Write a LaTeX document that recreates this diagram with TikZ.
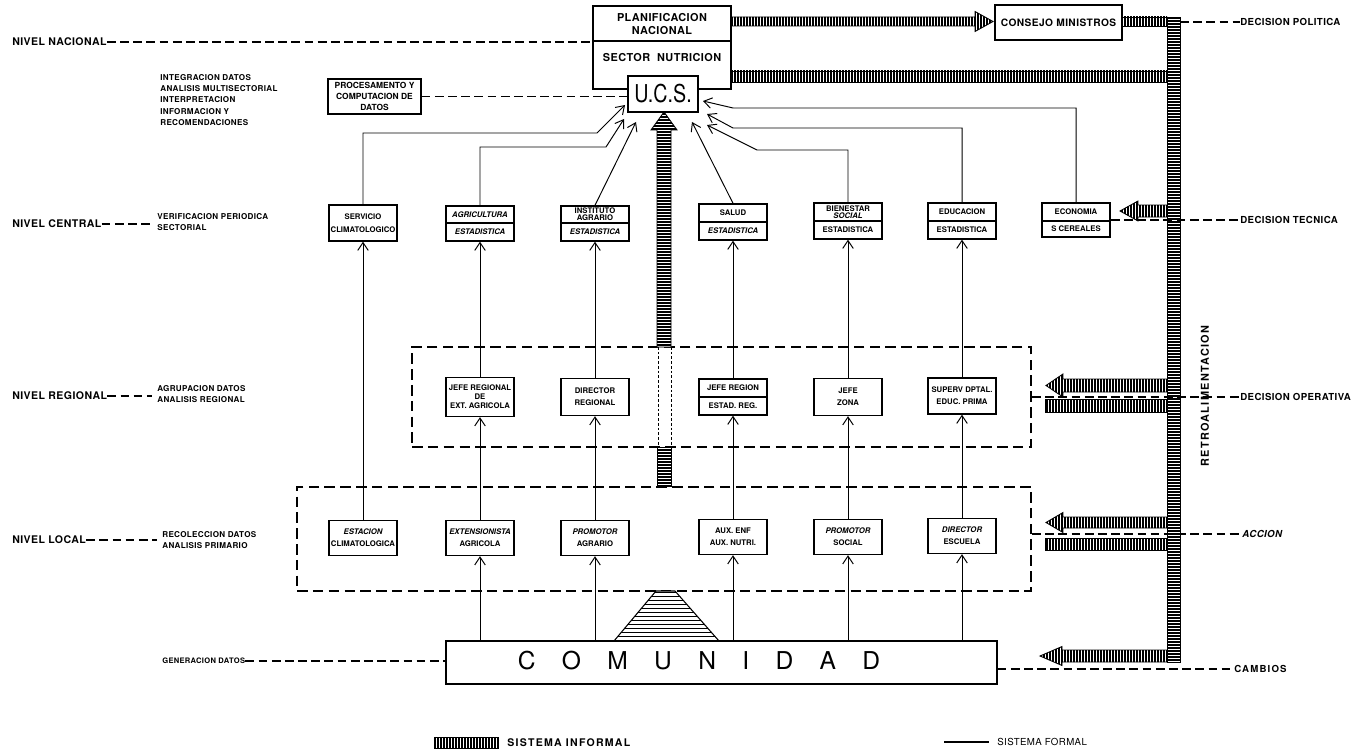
\documentclass[tikz,border=0pt]{standalone}
\usepackage{fontspec}
\setmainfont{TeX Gyre Heros}
\newfontfamily\hvsp[LetterSpace=4]{TeX Gyre Heros}
\newfontfamily\hvwide[LetterSpace=12]{TeX Gyre Heros}
\newfontfamily\hvcond[FakeStretch=0.8]{TeX Gyre Heros}
\usetikzlibrary{arrows.meta}

% two-part box: name, centre x, top y, divider y, bottom y, upper text, lower text
\newcommand{\dualbox}[7]{%
  \node[cell, minimum height={(#5-#3)*0.02cm}] (#1) at (#2,{(#3+#5)/2}) {};
  \draw[line width=0.6pt] ({#2-34},#4) -- ({#2+34},#4);
  \node[btext] (#1-u) at (#2,{(#3+#4)/2}) {#6};
  \node[btext] (#1-l) at (#2,{(#4+#5)/2}) {#7};}

% hatched arrow: tip x, head base x, tail x, centre y, half band, half head
\newcommand{\hatcharrow}[6]{%
  \draw[band] (#2,{#4-#5}) -- (#2,{#4-#6}) -- (#1,#4) -- (#2,{#4+#6})
    -- (#2,{#4+#5}) -- (#3,{#4+#5}) -- (#3,{#4-#5}) -- cycle;}

\begin{document}
\begin{tikzpicture}[x=0.02cm,y=-0.02cm,
  cell/.style={draw, line width=0.8pt, fill=white, minimum width=1.36cm, inner sep=0pt},
  btext/.style={font=\fontsize{4.4}{5.2}\selectfont\bfseries, align=center, inner sep=0pt},
  lvl/.style={font=\hvsp\fontsize{6}{7}\selectfont\bfseries, inner sep=0pt, anchor=west},
  desc/.style={font=\hvsp\fontsize{4.6}{6.5}\selectfont\bfseries, inner sep=0pt, anchor=west, align=left},
  dec/.style={font=\hvsp\fontsize{5.5}{6.5}\selectfont\bfseries, inner sep=0pt, anchor=west},
  lvldash/.style={line width=0.6pt, dash pattern=on 5pt off 2.5pt},
  zone/.style={draw, line width=1.3pt, dash pattern=on 6pt off 3pt, inner sep=0pt},
  flow/.style={line width=0.55pt, -{Straight Barb[length=4.5pt,width=6pt]}},
  % hatched bands of the informal system: vertical stripes
  band/.style={draw, line width=0.5pt, fill=white, path picture={
      \draw[line width=0.95pt] \foreach \i in {0,3,...,1371} {(\i,0) -- (\i,753)};}},
  % same, horizontal stripes
  vband/.style={draw, line width=0.5pt, fill=white, path picture={
      \draw[line width=0.95pt] \foreach \j in {0,3,...,753} {(0,\j) -- (1371,\j)};}},
  trapfill/.style={draw, line width=0.6pt, fill=white, path picture={
      \draw[line width=0.5pt] \foreach \j in {592,596,...,640} {(600,\j) -- (730,\j)};}},
]
\useasboundingbox (0,0) rectangle (1371,753);
\fill[white] (0,0) rectangle (1371,753);

% ---------- dashed zones (regional, local) ----------
\node[zone, minimum width=12.38cm, minimum height=2cm] (regional) at (721.5,397) {};
\node[zone, minimum width=14.68cm, minimum height=2.08cm] (local) at (664,539) {};

% ---------- informal system: feedback bands ----------
\hatcharrow{993}{975}{731}{21.5}{4.5}{10}
\draw[band] (1122,17) rectangle (1167,26);
\draw[band] (731,71) rectangle (1167,82);
\hatcharrow{1120}{1138}{1167}{211}{6}{10}
\hatcharrow{1046}{1063}{1167}{385.5}{6.5}{11.5}
\draw[band] (1045,399) rectangle (1167,412);
\hatcharrow{1046}{1063}{1167}{522.5}{5.5}{10}
\draw[band] (1045,538) rectangle (1167,550);
\hatcharrow{1040}{1062}{1167}{656}{6}{9.5}
\draw[vband] (1167,17) rectangle (1180,662);
\coordinate (band-r) at (1180,22);

% ---------- informal system: community to U.C.S. ----------
\draw[vband] (657,347) -- (657,130) -- (651,130) -- (664,112) -- (677,130) -- (671,130) -- (671,347) -- cycle;
\draw[line width=0.5pt, dash pattern=on 1.5pt off 1.2pt] (658,347) -- (658,447) (671,347) -- (671,447);
\draw[vband] (657,447) rectangle (671,486);
\draw[trapfill] (614,641) -- (656,591) -- (675,591) -- (719,641) -- cycle;

% ---------- national level ----------
\node[draw, line width=0.8pt, minimum width=2.76cm, minimum height=1.66cm, inner sep=0pt] (plan) at (662,47.5) {};
\draw[line width=0.6pt] (593,41) -- (731,41);
\node[font=\hvsp\fontsize{6.2}{6.9}\selectfont\bfseries, align=center, inner sep=0pt] (plan-t) at (662,24) {PLANIFICACION\\NACIONAL};
\node[font=\hvsp\fontsize{6.2}{6.9}\selectfont\bfseries, inner sep=0pt] (plan-s) at (662,58) {SECTOR\ \ NUTRICION};
\node[cell, minimum width=1.4cm, minimum height=0.72cm, font=\hvcond\fontsize{14}{14}\selectfont] (ucs) at (663,94) {U.C.S.};
\node[cell, minimum width=2.54cm, minimum height=0.7cm, font=\hvsp\fontsize{5.8}{7}\selectfont\bfseries] (consejo) at (1058.5,22.5) {CONSEJO MINISTROS};
\node[cell, minimum width=1.86cm, minimum height=0.7cm, align=center, font=\fontsize{4.8}{6.2}\selectfont\bfseries] (proc) at (374.5,96.5) {PROCESAMENTO Y\\COMPUTACION DE\\DATOS};

% ---------- central level ----------
\node[cell, btext, minimum height=0.72cm] (servicio) at (363,223) {SERVICIO\\[2pt]CLIMATOLOGICO};
\dualbox{agri}{480}{206}{223}{241}{\itshape AGRICULTURA}{\itshape ESTADISTICA}
\dualbox{inst}{595}{206}{223}{241}{INSTITUTO\\[-1.4pt]AGRARIO}{\itshape ESTADISTICA}
\dualbox{salud}{733}{204}{222}{240}{SALUD}{\itshape ESTADISTICA}
\dualbox{bien}{848}{203}{221}{239}{BIENESTAR\\[-1.4pt]{\itshape SOCIAL}}{ESTADISTICA}
\dualbox{educ}{962}{203}{221}{239}{EDUCACION}{ESTADISTICA}
\dualbox{econ}{1076}{203}{221}{237}{ECONOMIA}{S CEREALES}

% ---------- regional level ----------
\node[cell, btext, minimum height=0.78cm] (jreg) at (480,397) {JEFE REGIONAL\\DE\\EXT. AGRICOLA};
\node[cell, btext, minimum height=0.74cm] (dreg) at (595,397) {DIRECTOR\\[1.5pt]REGIONAL};
\dualbox{jregion}{733}{379}{397}{415}{JEFE REGION}{ESTAD. REG.}
\node[cell, btext, minimum height=0.74cm] (jzona) at (848,397) {JEFE\\[1.5pt]ZONA};
\node[cell, btext, minimum height=0.72cm] (superv) at (962,396) {SUPERV DPTAL.\\[1.5pt]EDUC. PRIMA};

% ---------- local level ----------
\node[cell, btext, minimum height=0.7cm] (estacion) at (363,538) {{\itshape ESTACION}\\[1.5pt]CLIMATOLOGICA};
\node[cell, btext, minimum height=0.7cm] (extens) at (480,538) {{\itshape EXTENSIONISTA}\\[1.5pt]AGRICOLA};
\node[cell, btext, minimum height=0.7cm] (promagr) at (595,538) {{\itshape PROMOTOR}\\[1.5pt]AGRARIO};
\node[cell, btext, minimum height=0.7cm] (auxenf) at (733,537) {AUX. ENF\\[1.5pt]AUX. NUTRI.};
\node[cell, btext, minimum height=0.7cm] (promsoc) at (848,537) {{\itshape PROMOTOR}\\[1.5pt]SOCIAL};
\node[cell, btext, minimum height=0.7cm] (direscuela) at (962,536) {{\itshape DIRECTOR}\\[1.5pt]ESCUELA};

% ---------- community ----------
\node[cell, minimum width=11.02cm, minimum height=0.86cm] (comunidad) at (721.5,662.5) {};
\node[font=\fontsize{14}{14}\selectfont, inner sep=0pt] (comunidad-t) at (699,661)
  {\spaceskip=15pt\relax C O M U N I D A D};

% ---------- formal system: data flows ----------
\foreach \lo/\hi in {estacion/servicio, jreg/agri, dreg/inst, jregion/salud, jzona/bien, superv/educ,
                    extens/jreg, promagr/dreg, auxenf/jregion, promsoc/jzona, direscuela/superv}
  \draw[flow] (\lo.north) -- (\hi.south);
\foreach \lo in {extens, promagr, auxenf, promsoc, direscuela}
  \draw[flow] (\lo.south |- comunidad.north) -- (\lo.south);

\coordinate (sv-b) at (597,133); \coordinate (sv-t) at (625,105);
\coordinate (ag-b) at (606,147); \coordinate (ag-t) at (624,119);
\coordinate (in-t) at (636,122);
\coordinate (sa-t) at (692,122);
\coordinate (bi-b) at (757,150); \coordinate (bi-t) at (707,125);
\coordinate (ed-b) at (733,128); \coordinate (ed-t) at (707,114);
\coordinate (ec-b) at (733,108); \coordinate (ec-t) at (703,101);
\draw[flow] (servicio.north) |- (sv-b) -- (sv-t);
\draw[flow] (agri.north) |- (ag-b) -- (ag-t);
\draw[flow] (inst.north) -- (in-t);
\draw[flow] (salud.north) -- (sa-t);
\draw[flow] (bien.north) |- (bi-b) -- (bi-t);
\draw[flow] (educ.north) |- (ed-b) -- (ed-t);
\draw[flow] (econ.north) |- (ec-b) -- (ec-t);

% ---------- level labels (left) ----------
\node[lvl] (nacional) at (12,42) {NIVEL NACIONAL};
\draw[lvldash] (nacional.east) -- (nacional.east -| plan.west);
\node[desc] (nac-d) at (160,100) {INTEGRACION DATOS\\ANALISIS MULTISECTORIAL\\INTERPRETACION\\INFORMACION Y\\RECOMENDACIONES};
\draw[lvldash] (proc.east) -- (proc.east -| ucs.west);

\node[lvl] (central) at (12,224) {NIVEL CENTRAL};
\node[desc] (central-d) at (157,222) {VERIFICACION PERIODICA\\SECTORIAL};
\draw[lvldash] (central.east) -- ([xshift=-3pt]central.east -| central-d.west);

\node[lvl] (regl) at (12,396) {NIVEL REGIONAL};
\node[desc] (regl-d) at (157,394) {AGRUPACION DATOS\\ANALISIS REGIONAL};
\draw[lvldash] (regl.east) -- ([xshift=-3pt]regl.east -| regl-d.west);

\node[lvl] (locl) at (12,540) {NIVEL LOCAL};
\node[desc] (locl-d) at (162,540) {RECOLECCION DATOS\\ANALISIS PRIMARIO};
\draw[lvldash] (locl.east) -- ([xshift=-3pt]locl.east -| locl-d.west);

\node[desc, font=\hvsp\fontsize{4.3}{5}\selectfont\bfseries] (gen) at (162,661) {GENERACION DATOS};
\draw[lvldash] (gen.east) -- (gen.east -| comunidad.west);

% ---------- decision labels (right) ----------
\node[dec] (politica) at (1240,22) {DECISION POLITICA};
\draw[lvldash] (band-r) -- (politica.west);
\node[dec] (tecnica) at (1240,220) {DECISION TECNICA};
\draw[lvldash] (econ.east) -- (econ.east -| tecnica.west);
\node[dec] (operativa) at (1240,397) {DECISION OPERATIVA};
\draw[lvldash] (regional.east) -- (regional.east -| operativa.west);
\node[dec, font=\hvsp\fontsize{5.5}{6.5}\selectfont\bfseries\itshape] (accion) at (1242,534) {ACCION};
\draw[lvldash] (local.east |- accion.west) -- (accion.west);
\node[dec, font=\hvwide\fontsize{5.5}{6.5}\selectfont\bfseries] (cambios) at (1234,669) {CAMBIOS};
\draw[lvldash] (comunidad.east |- cambios.west) -- (cambios.west);

\node[font=\hvwide\fontsize{6.2}{7}\selectfont\bfseries, rotate=90, inner sep=0pt] (retro) at (1205,396) {RETROALIMENTACION};

% ---------- legend ----------
\draw[band] (434,737) rectangle (498,748);
\coordinate (inf-swatch) at (498,742.5);
\node[font=\hvwide\fontsize{6}{7}\selectfont\bfseries, inner sep=0pt, anchor=west] (inf-text) at (507,743) {SISTEMA INFORMAL};
\coordinate (formal-line) at (944,742);
\node[font=\hvsp\fontsize{5.5}{6.5}\selectfont, inner sep=0pt, anchor=west] (formal-text) at (997,742) {SISTEMA FORMAL};
\draw[line width=0.8pt] (formal-line) -- ([xshift=-0.16cm]formal-text.west);
\end{tikzpicture}
\end{document}
